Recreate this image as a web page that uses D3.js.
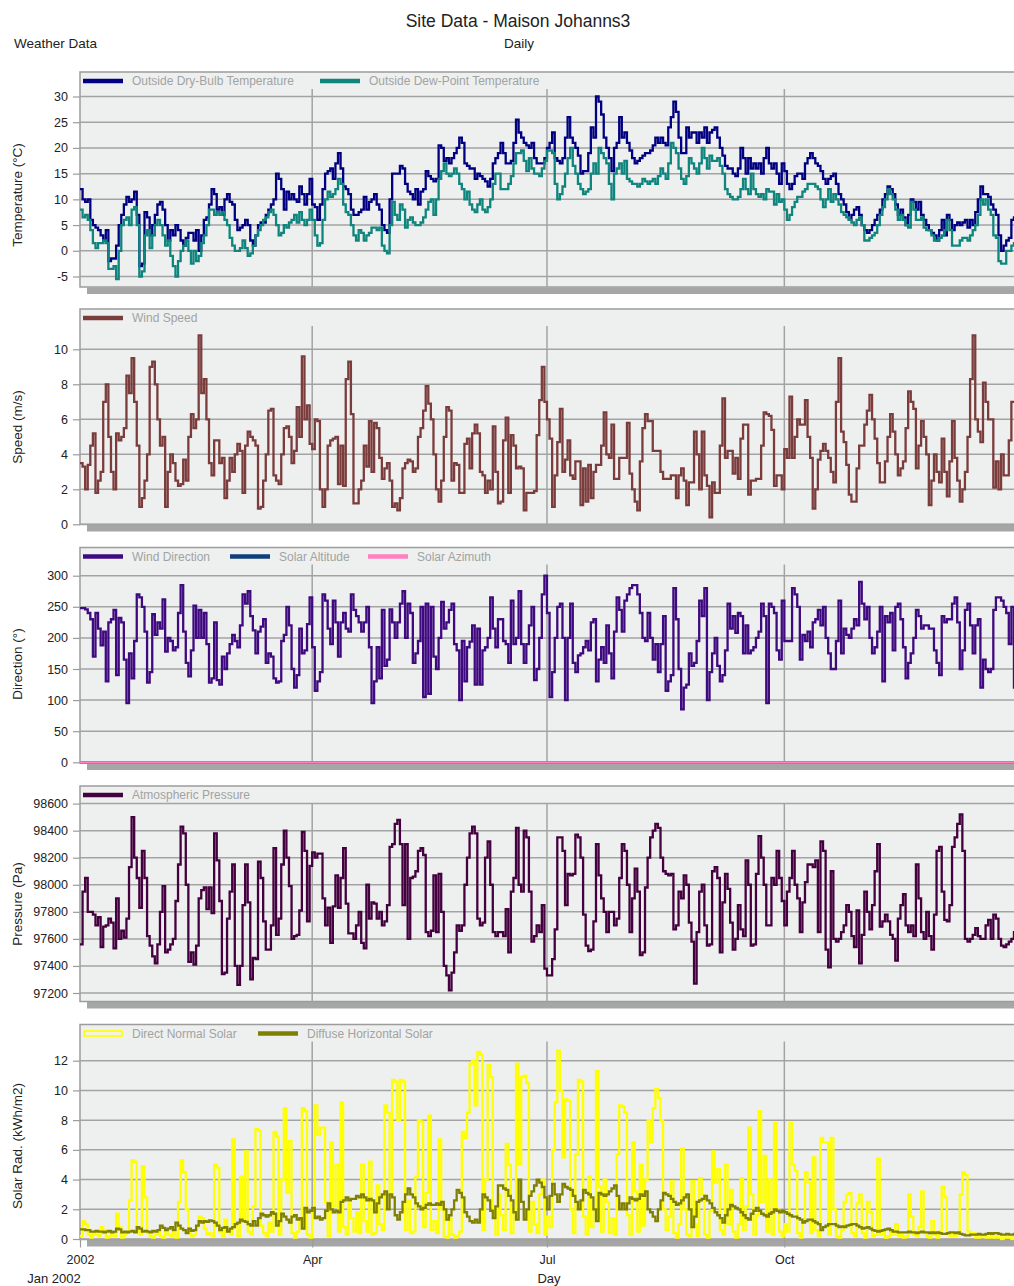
<!DOCTYPE html>
<html>
<head>
<meta charset="utf-8">
<script src="https://cdn.jsdelivr.net/npm/d3@7"></script>
<style>
  body { margin: 0; background: #fff; }
  svg text { font-family: "Liberation Sans", Arial, sans-serif; }
</style>
</head>
<body>
<svg id="chart" width="1014" height="1286"></svg>
<script>
// ---- Daily weather series, 1 Jan 2002 .. 31 Dec 2002 (365 values each) ----
const dryBulb = [
12,10,9.5,10,6,5,4.5,4,3,2,
4,-2,-1.5,-1.5,1,5,7,9,10.5,9.5,
10,11.5,7,-3,-2.5,7.5,6.5,3,5,7,
9,9.5,8,5,2,4,3,5,4,2,
1,2.5,3.5,3.5,2,4,0,3,6,6.5,
9,12,11,8,8.5,7,10,11,9.5,9,
6,4,4.5,5,6,5,2,1,3,5,
5.5,5.5,7,8,9,10,15,14,12,8,
11.5,10,11,10,9.5,12.5,11,9,11,14,
9,8.5,6,9,12,15,15.5,16,14,17,
19,16,12.5,12,11,8,7,7,7.5,8,
10.5,8,9.5,10,11,9,8,5,4,3.5,
10,15,15,15,16.5,16,13,11.5,11,10,
12,9,11.5,12,15.5,14.5,14,13.5,14,20.5,
20,17.5,18,17,18,19,20,22,21,17,
16.5,16,16,14,15,14.5,14,13.5,12.5,14,
17,18,19,21,19,17,17,17.5,21,25.5,
23,22,21,20.5,20,21,18,17,17,17,
18,20,21,23,18,17.5,17,18,22,26,
22,21,20,18.5,15,15.5,15.5,19,24,22,
30,29,26.5,22,20,18,15.5,20,21,26,
22,23,21,19.5,18,17,17.5,18,18.5,19,
19,19.5,20.5,22,21,22,21,20.5,24,26,
29,27,22,19,19,24,22,23,23,21,
23,22,24,21,23,23.5,24,22,20,18.5,
16.5,16,16,15,14.5,16,20,18,15,18,
16,17,16,17,15,18,20,17,16,17,
15,13,17,15.5,13,12,13,14.5,15,15,
14,17,18,19,18,17,16.5,15.5,14,13,
14,14.5,15,13,11,10,9,7.5,6,7,
8,8.5,7,5,4,3.5,4,5,6,7,
8,10,11,12.5,12,11,9,7,8,6.5,
5,7,10,9.5,8,9.5,7,6,5,4,
3.5,3,2,4,6,3,7,6,4,5,
5.5,5,5.5,6,4.5,6,5,7.5,10,12.5,
11,11,10.5,9,8,7,3,0,1,2,
2.5,6,6.5,6,5
];

const dewPoint = [
8,6.5,7,6,4,1.5,0.5,1.5,1.5,2,
1.5,-3.5,-3.5,-3,-5.5,0,5,6,6.5,5,
8,8.5,5,-5,-4,3,4,0.5,3,5,
6,5,3,1,2,-1,-3,-5,-2,0,
1,2,0,-2.5,0,-2,-1,1.5,3,5,
8,8,7,7.5,7,7.5,6,5,2.5,1,
0,0,0.5,2,0.5,-1,-0.5,1,3,4,
5,6,6.5,7.5,8,7,5,3,3.5,5,
4.5,5.5,6,7,5.5,7.5,6,5,6,8,
6,3,1,1.5,6,10,11.5,10.5,11,12,
14,13,9,7.5,7,5,3,2,4,3.5,
2,3,3.5,4.5,4.5,4,4.5,1,0,-0.5,
5,9.5,7,6,9,8,4.5,6,6.5,5.5,
5,5,5.5,6.5,8,9.5,10,7,10,14,
15.5,17,15,14.5,15,16,15,13,12,10,
11.5,9,8,7.5,9,10,8,7.5,8.5,10,
13,15,15,12,12,12,13,14.5,17,19,
19,19.5,17.5,15.5,18,16,15,15,14.5,16,
17.5,19.5,19.5,19,13,10,11,12.5,15,18,
20,16.5,15,13,12,11,11.5,12,15,17,
15,20,19,18,17,13,10,15,16,17,
15,17.5,14,13.5,13,13,12.5,13,14,13.5,
13,13.5,14,13,14.5,16,15,14,17,21,
20,19,16,14,13,14.5,18,17,16,15,
17,20,18,16,18.5,17.5,17.5,18,16.5,15,
12,11,10.5,10,10,10.5,12,14,12,11,
15,12,11,10.5,11,10,12,11.5,11.5,9,
11,9.5,10,8,6,7,8.5,9.5,10.5,10.5,
11.5,12,13,13,13,12.5,12,10,8.5,10,
12,9.5,11,10,9,7.5,7,6.5,6,5.5,
5,6,6.5,5,2,2,2.5,3,3.5,5,
7,8.5,10,12,11,10,8,6,7,6,
5,4.5,9.5,8,6,6,6.5,4.5,4,4,
3,2,2,2.5,3,4,6,4,1,1,
1,2,2.5,2.5,2,3,4,5,7,10,
9,10,8,7,3,2.5,-2,-2.5,-2.5,0,
0,1,1.5,2,2
];

const windSpeed = [
3.5,3.3,2,3.4,4.5,5.2,1.8,2.5,3,7,
8,5,3,2,5.2,4.8,5,5.5,8.5,7.5,
9.5,7,4.5,1,1.5,2.5,4,9,9.3,8,
6,4.5,5,1,3,4,3.5,2.5,2.2,2.3,
3.7,2.5,5,6.3,5.5,6,10.8,7.5,8.3,6,
3.5,2.8,4.8,4.8,3.5,3.8,1.5,2.5,3.8,3,
4,4.6,4.2,1.8,4.5,5.3,5,4.8,4.5,0.9,
1,2.5,4,6.5,6.6,2.8,2.5,2.3,4,5.5,
5.6,5,3.5,4.2,6.7,5,9.6,6,6.8,4.6,
4.3,6,5.9,2,1,2,4.5,4.8,4.9,5,
2.3,4.5,2.2,8.3,9.3,6.3,1.2,1.2,2,2.5,
4.5,3.3,5.9,3,5.8,5.5,3.8,2.6,3.2,3.5,
2.5,1,1.2,0.8,1.5,3.2,3.5,3.7,3.6,3,
3.2,5,5.5,6.5,7.9,6.9,6,4,2,1.3,
2.5,5,6.7,6.5,2.5,3.5,3.4,1.8,1.8,4.6,
4.9,3.2,5.2,5.7,5.2,3,2.8,1.8,2.5,2,
5.6,3,1.2,1.3,4.8,6.1,1.8,5.1,4.5,3.2,
3.3,3.2,0.8,1.8,1.8,1.8,1.9,5.1,7.1,9,
7,6,4.9,1,2.8,4.7,6.6,3,3.7,4.8,
2.8,2.6,3.6,3.6,1.1,3.2,1.3,3.4,1.5,3,
3.4,3.4,4.5,6.4,4,3.8,5.7,2.6,2.6,3.8,
3.8,3.8,5.8,2.9,2,1.3,0.8,3.6,5.5,6.3,
5.9,5.9,4.2,4.2,4.2,3,2.6,2.6,2.6,2.8,
2.8,1.5,2.8,3.2,2.5,1.1,2.4,2.4,5.3,4,
2,5.3,2.8,2.2,0.4,2.4,1.8,1.8,4.5,7.2,
3.8,4.2,4.2,2.9,3.8,2.6,4.9,5.7,5.7,1.7,
2.5,2.5,2.6,2.6,4.5,6.4,6.3,6.2,5.4,2.2,
2.8,2.8,2,4.3,3.8,7.3,3.8,5,6,5.7,
5.7,7.1,5,3.8,0.9,2,3.7,4.2,4.6,4.2,
3.8,3,2.4,7,9.5,5.3,4.7,3.4,1.7,1.3,
1.3,3.2,4.5,4.5,5.7,6.5,7.4,6,4.9,3.5,
2.4,2.4,3.6,5,6.3,5.3,4,2.8,3.2,3.6,
5.5,7.6,7,6.6,3.2,4.5,5.9,5,4,1.1,
2.5,4,3,2.4,4.9,3,1.6,3.6,5.9,3.8,
2.5,1.3,2,3,5,8.3,10.8,6,5.3,4.7,
8.1,7,6,6,2.1,3.6,2,4,2.8,2.8,
4.8,7,7,6,5
];

const windDirection = [
248,248,246,240,230,170,240,215,188,210,
130,225,230,245,140,232,225,165,95,175,
135,195,270,265,250,210,128,145,238,205,
225,215,262,178,200,195,180,185,240,285,
210,160,138,180,252,200,245,200,240,190,
128,135,225,132,125,170,150,175,190,205,
195,185,220,270,255,275,235,212,175,210,
218,230,160,175,170,135,128,130,195,205,
250,220,150,120,140,215,175,180,222,265,
185,115,130,145,270,260,215,190,260,225,
170,225,240,215,210,270,245,235,225,210,
225,250,185,95,130,185,135,245,155,165,
246,225,200,225,255,275,200,255,240,160,
175,195,250,105,255,110,250,170,150,200,
258,215,225,245,255,190,180,100,195,130,
185,194,220,125,215,125,180,185,200,265,
215,185,230,230,195,190,160,260,190,200,
275,190,160,190,220,250,132,150,200,270,
300,240,105,145,200,250,255,200,100,200,
255,160,145,172,175,185,195,180,225,230,
130,165,185,160,220,175,135,210,265,245,
210,260,270,280,285,285,270,240,200,195,
240,200,165,190,145,190,235,115,130,140,
280,230,150,85,120,125,175,155,160,195,
260,235,280,100,145,175,200,155,130,140,
180,255,215,235,208,240,235,175,220,175,
180,185,200,210,255,235,95,255,250,240,
180,165,260,195,195,195,280,270,250,165,
205,195,210,185,225,230,245,220,250,200,
175,150,150,195,260,175,215,205,200,215,
230,220,290,255,230,250,200,175,185,210,
250,130,235,225,240,180,250,255,230,185,
135,160,175,200,245,235,215,220,220,215,
215,180,160,140,235,225,230,230,255,265,
225,150,180,245,255,220,175,220,230,120,
165,150,145,150,245,265,265,260,250,240,
190,250,120,200,230
];

const solarAltitude = [
0,0,0,0,0,0,0,0,0,0, 0,0,0,0,0,0,0,0,0,0, 0,0,0,0,0,0,0,0,0,0, 0,0,0,0,0,0,0,0,0,0,
0,0,0,0,0,0,0,0,0,0, 0,0,0,0,0,0,0,0,0,0, 0,0,0,0,0,0,0,0,0,0, 0,0,0,0,0,0,0,0,0,0,
0,0,0,0,0,0,0,0,0,0, 0,0,0,0,0,0,0,0,0,0, 0,0,0,0,0,0,0,0,0,0, 0,0,0,0,0,0,0,0,0,0,
0,0,0,0,0,0,0,0,0,0, 0,0,0,0,0,0,0,0,0,0, 0,0,0,0,0,0,0,0,0,0, 0,0,0,0,0,0,0,0,0,0,
0,0,0,0,0,0,0,0,0,0, 0,0,0,0,0,0,0,0,0,0, 0,0,0,0,0,0,0,0,0,0, 0,0,0,0,0,0,0,0,0,0,
0,0,0,0,0,0,0,0,0,0, 0,0,0,0,0,0,0,0,0,0, 0,0,0,0,0,0,0,0,0,0, 0,0,0,0,0,0,0,0,0,0,
0,0,0,0,0,0,0,0,0,0, 0,0,0,0,0,0,0,0,0,0, 0,0,0,0,0,0,0,0,0,0, 0,0,0,0,0,0,0,0,0,0,
0,0,0,0,0,0,0,0,0,0, 0,0,0,0,0,0,0,0,0,0, 0,0,0,0,0,0,0,0,0,0, 0,0,0,0,0,0,0,0,0,0,
0,0,0,0,0,0,0,0,0,0, 0,0,0,0,0,0,0,0,0,0, 0,0,0,0,0,0,0,0,0,0, 0,0,0,0,0,0,0,0,0,0,
0,0,0,0,0
];

const solarAzimuth = [
0,0,0,0,0,0,0,0,0,0, 0,0,0,0,0,0,0,0,0,0, 0,0,0,0,0,0,0,0,0,0, 0,0,0,0,0,0,0,0,0,0,
0,0,0,0,0,0,0,0,0,0, 0,0,0,0,0,0,0,0,0,0, 0,0,0,0,0,0,0,0,0,0, 0,0,0,0,0,0,0,0,0,0,
0,0,0,0,0,0,0,0,0,0, 0,0,0,0,0,0,0,0,0,0, 0,0,0,0,0,0,0,0,0,0, 0,0,0,0,0,0,0,0,0,0,
0,0,0,0,0,0,0,0,0,0, 0,0,0,0,0,0,0,0,0,0, 0,0,0,0,0,0,0,0,0,0, 0,0,0,0,0,0,0,0,0,0,
0,0,0,0,0,0,0,0,0,0, 0,0,0,0,0,0,0,0,0,0, 0,0,0,0,0,0,0,0,0,0, 0,0,0,0,0,0,0,0,0,0,
0,0,0,0,0,0,0,0,0,0, 0,0,0,0,0,0,0,0,0,0, 0,0,0,0,0,0,0,0,0,0, 0,0,0,0,0,0,0,0,0,0,
0,0,0,0,0,0,0,0,0,0, 0,0,0,0,0,0,0,0,0,0, 0,0,0,0,0,0,0,0,0,0, 0,0,0,0,0,0,0,0,0,0,
0,0,0,0,0,0,0,0,0,0, 0,0,0,0,0,0,0,0,0,0, 0,0,0,0,0,0,0,0,0,0, 0,0,0,0,0,0,0,0,0,0,
0,0,0,0,0,0,0,0,0,0, 0,0,0,0,0,0,0,0,0,0, 0,0,0,0,0,0,0,0,0,0, 0,0,0,0,0,0,0,0,0,0,
0,0,0,0,0
];

const pressure = [
97560,97950,98050,97800,97800,97780,97700,97760,97540,97690,
97700,97750,97720,97530,97900,97600,97660,97610,97750,98130,
98500,98200,98050,97830,98250,98050,97620,97550,97470,97420,
97560,97800,97990,97500,97520,97560,97600,97880,98150,98430,
98380,98000,97430,97500,97410,97550,97900,97960,97980,97820,
97980,97790,98380,98180,97880,97340,97350,97750,97950,98150,
97400,97260,97400,97850,98150,97870,97300,97460,97450,98170,
98050,97730,97520,97520,97700,98270,97630,97750,98150,98400,
98200,97990,97600,97620,97630,97810,98390,98250,97730,98140,
98240,98200,98230,98230,97900,97700,97830,97570,97840,98070,
97830,98050,98270,97860,97640,97640,97600,97700,97800,97570,
97530,98000,97750,97870,97860,97750,97800,97700,97730,97850,
98280,98300,98450,98480,98300,97850,98300,97600,98050,98060,
98100,98250,98270,98220,97650,97620,97660,98070,97650,98080,
97800,97400,97330,97220,97350,97500,97700,97660,97700,98000,
98200,98380,98430,98380,97750,97700,97720,98200,98320,98000,
97650,97620,97650,97650,97620,97820,97500,97950,98050,98420,
98000,97950,98400,98350,97950,97580,97620,97700,97650,97850,
97380,97330,97330,97450,97670,98350,98350,98250,97850,98080,
98070,98080,98370,98350,98200,97780,97550,97510,97520,97730,
98300,98070,97900,97800,97650,97800,97800,97700,97750,98050,
98300,98250,98000,97650,97900,98120,97950,97480,97500,97980,
98200,98350,98400,98450,98420,98200,98100,98080,98070,98080,
97670,97700,97950,97900,98070,98000,97720,97580,97270,97650,
97950,98000,97700,97550,97560,98100,98130,98050,97500,97870,
98080,97970,97720,97520,97600,97850,97670,97620,98180,98000,
97550,97560,98080,98360,98200,98000,97700,97700,98050,98000,
98250,98050,97880,97700,97950,98050,98250,98000,97900,97650,
97870,98020,98150,98150,98130,98180,97650,98320,98250,97520,
97390,98100,97600,97580,97600,97650,97700,97850,97800,97620,
97540,97810,97420,97630,97950,97800,97670,97850,98100,98300,
97690,97730,97780,97730,97630,97600,97440,97750,97850,97930,
97700,97650,97700,97620,98150,97900,97650,97600,97800,97620,
97520,97780,98250,98280,97950,97740,97730,97850,98280,98350,
98450,98520,98250,97600,97580,97600,97630,97680,97620,97600,
97600,97700,97740,97600,97780,97750,97600,97550,97540,97560,
97580,97600,97650,97620,97600
];

const directNormal = [
0.2,1.2,1.0,0.3,0.1,0.4,0.3,0.2,0.8,0.6,
0.1,0.2,0.3,0.2,1.7,0.8,0.1,0.3,0.5,2.6,
5.3,5.2,0.6,0.3,4.9,2.8,0.4,0.2,0.1,0.3,
0.4,0.2,0.1,0.6,0.3,0.2,0.4,0.1,2.5,5.3,
4.5,2.0,0.4,0.2,0.3,0.8,1.5,1.4,0.7,0.3,
0.4,0.2,5.0,4.8,0.5,0.2,1.3,0.6,0.3,6.7,
0.8,0.2,4.2,1.2,5.9,0.5,0.3,2.2,7.4,7.3,
0.9,0.4,0.2,1.1,0.5,7.2,6.9,0.3,4.0,8.8,
3.1,6.6,0.4,0.1,0.5,1.2,8.8,8.6,0.3,0.1,
2.1,9.0,7.0,7.5,7.5,2.5,0.2,6.5,2.2,5.0,
0.5,9.2,0.8,0.3,2.4,1.4,0.5,1.8,0.4,5.0,
1.2,0.5,5.2,0.3,0.4,3.6,1.0,0.6,9.0,8.5,
3.0,10.7,10.6,8.0,10.7,10.6,0.6,2.6,0.4,0.5,
4.2,8.0,7.9,0.8,3.1,8.3,0.6,1.2,0.4,6.7,
2.0,0.2,0.1,1.4,0.3,0.1,0.2,0.5,7.2,6.8,
8.5,11.8,12.0,9.0,12.6,12.4,0.6,4.0,11.7,10.9,
2.0,0.3,3.0,1.6,0.6,6.4,5.0,0.4,2.0,11.8,
5.0,10.9,11.0,10.5,0.5,2.5,1.0,0.4,3.0,4.0,
0.3,1.5,0.8,6.0,9.2,12.7,10.0,5.5,9.4,9.3,
2.0,0.4,5.7,10.7,10.6,1.5,0.3,4.2,0.8,2.0,
11.3,3.5,0.5,4.0,2.5,0.4,1.4,0.3,5.7,9.0,
8.9,8.5,1.6,0.3,6.5,3.2,0.5,5.0,0.9,4.0,
8.0,6.5,8.8,10.1,9.5,8.0,2.0,0.6,1.5,3.9,
0.4,0.1,1.0,6.1,2.0,0.3,0.2,3.9,1.0,0.2,
4.1,3.0,0.3,0.1,1.9,5.9,3.8,4.7,0.6,0.3,
5.0,1.0,3.3,0.5,0.1,1.0,4.1,0.6,2.2,7.5,
3.0,0.3,1.6,8.6,2.5,5.6,0.5,4.0,0.3,7.8,
2.0,0.5,0.2,1.0,0.5,7.8,5.0,4.6,0.4,0.1,
1.2,4.5,3.8,0.4,5.5,0.6,0.2,6.8,6.5,6.5,
0.3,6.8,2.0,0.2,0.1,0.6,2.5,3.0,3.1,0.4,
0.2,2.4,3.0,0.4,0.1,2.5,1.8,0.2,0.3,5.4,
0.3,0.5,0.1,0.2,0.5,0.3,1.0,0.2,0.3,0.1,
0.2,3.0,1.5,0.3,0.2,0.8,3.2,0.4,0.2,0.1,
1.2,0.3,0.1,0.5,3.5,2.8,0.4,0.2,0.3,0.2,
0.4,3.0,4.5,4.3,0.5,0.3,0.4,0.1,0.1,0.2,
0.3,0.1,0.1,0.2,0.1,0.2,0.1,0.0,0.1,0.1,
0.1,0.0,0.1,0.1,0.1
];

const diffuseHorizontal = [
0.65,0.65,0.6,0.6,0.5,0.5,0.55,0.5,0.5,0.45,
0.5,0.55,0.45,0.5,0.7,0.65,0.45,0.5,0.45,0.5,
0.55,0.45,0.8,0.7,0.5,0.55,0.5,0.45,0.55,0.5,
0.6,0.9,0.75,0.6,0.7,0.8,0.6,1.1,0.9,0.7,
0.6,0.4,0.7,0.55,0.6,0.9,1.2,1.1,1.2,1.15,
1.25,1.2,1.1,0.9,0.6,0.75,0.8,0.5,0.7,0.8,
1.0,1.1,1.3,1.2,1.15,1.0,0.9,1.2,0.9,1.4,
1.7,1.6,1.5,1.6,1.8,1.7,0.9,1.2,1.7,1.5,
1.3,1.1,1.5,1.6,1.3,1.4,0.7,2.1,1.8,1.9,
2.1,1.4,1.5,1.3,1.4,1.9,2.4,2.0,1.8,1.9,
1.8,2.5,2.6,2.8,2.6,2.7,2.7,2.9,2.8,3.0,
2.8,2.6,2.7,2.6,1.8,2.4,2.8,3.0,3.2,2.0,
3.0,2.8,1.6,1.3,1.8,2.5,3.0,3.4,3.0,2.8,
2.4,2.2,2.0,2.1,2.3,2.4,2.3,2.3,2.4,2.3,
2.5,2.0,1.3,1.6,2.0,2.6,3.3,3.1,2.8,1.8,
1.5,1.2,1.1,1.3,1.1,2.0,3.0,2.8,2.6,1.9,
1.4,2.2,3.6,3.6,3.4,3.3,2.9,2.6,1.8,1.3,
4.0,2.5,1.3,2.0,2.9,3.2,3.6,4.0,3.8,3.5,
2.8,2.0,2.9,3.7,3.0,2.5,3.0,3.7,3.5,3.4,
3.3,2.9,2.5,2.0,2.6,3.3,3.1,3.0,2.8,2.0,
1.2,3.1,3.0,2.9,3.0,3.2,3.4,3.6,2.9,2.0,
2.4,2.0,2.4,2.8,2.7,2.6,2.7,3.0,2.9,3.2,
2.0,1.8,1.5,1.2,2.0,2.6,3.1,3.0,2.9,2.7,
2.5,2.3,2.4,2.6,2.8,3.0,2.0,0.8,1.5,2.5,
2.6,2.7,2.9,2.6,2.4,2.1,1.8,1.6,1.4,1.1,
1.6,2.0,2.3,2.2,2.1,2.0,1.8,1.6,1.4,1.3,
1.7,1.9,2.1,1.9,1.7,1.6,1.5,1.7,1.8,2.0,
1.9,1.8,1.9,1.8,1.7,1.6,1.5,1.5,1.4,1.3,
1.1,1.2,1.3,1.3,1.2,1.1,1.0,0.6,0.8,0.9,
1.0,1.0,1.0,0.9,0.8,0.85,0.8,0.9,0.95,1.0,
1.0,0.9,0.8,0.7,0.75,0.8,0.7,0.6,0.55,0.5,
0.55,0.6,0.65,0.7,0.6,0.5,0.5,0.45,0.45,0.45,
0.45,0.5,0.45,0.45,0.4,0.45,0.5,0.45,0.45,0.4,
0.45,0.4,0.45,0.4,0.35,0.35,0.4,0.45,0.45,0.4,
0.45,0.35,0.3,0.25,0.25,0.3,0.3,0.3,0.35,0.3,
0.3,0.35,0.4,0.35,0.4,0.4,0.35,0.3,0.3,0.35,
0.3,0.3,0.35,0.3,0.3
];

// ---- Axis ticks and labels ----
const temperatureTicks = [-5, 0, 5, 10, 15, 20, 25, 30];
const speedTicks = [0, 2, 4, 6, 8, 10];
const directionTicks = [0, 50, 100, 150, 200, 250, 300];
const pressureTicks = [97200, 97400, 97600, 97800, 98000, 98200, 98400, 98600];
const solarTicks = [0, 2, 4, 6, 8, 10, 12];
const monthTickDates = [[2002, 0, 1], [2002, 3, 1], [2002, 6, 1], [2002, 9, 1]];
const monthTickLabels = ["2002", "Apr", "Jul", "Oct"];

[dryBulb, dewPoint, windSpeed, windDirection, solarAltitude, solarAzimuth,
 pressure, directNormal, diffuseHorizontal].forEach((a, k) => {
  if (a.length !== 365) throw new Error("series " + k + " has " + a.length + " values");
});

// ---- Layout ----
const svg = d3.select("#chart");
const start = new Date(Date.UTC(2002, 0, 1));
const end = new Date(Date.UTC(2003, 0, 1));
const dayDate = i => new Date(start.getTime() + i * 864e5);
const x = d3.scaleUtc().domain([start, end]).range([80, 80 + 365 * 2.58]);
const plotLeft = x(start), plotRight = x(end);
const monthTicks = monthTickDates.map(d => new Date(Date.UTC(d[0], d[1], d[2])));

const GRID = "#a3a3a3";
const FRAME = "#9c9c9c";

const panels = [
  { top: 72, bottom: 287, domain: [-5, 30], range: [276.5, 96.5], ticks: temperatureTicks,
    title: "Temperature (°C)", titleY: 195, legendX: [83, 320],
    series: [
      { name: "Outside Dry-Bulb Temperature", values: dryBulb, color: "#000080" },
      { name: "Outside Dew-Point Temperature", values: dewPoint, color: "#0f857d" } ] },
  { top: 309, bottom: 524.5, domain: [0, 10], range: [524.3, 349.3], ticks: speedTicks,
    title: "Speed (m/s)", titleY: 427, legendX: [83],
    series: [ { name: "Wind Speed", values: windSpeed, color: "#7b3c3c" } ] },
  { top: 547.5, bottom: 763, domain: [0, 300], range: [762.3, 575.7], ticks: directionTicks,
    title: "Direction (°)", titleY: 664, legendX: [83, 230, 368],
    series: [
      { name: "Wind Direction", values: windDirection, color: "#3f0a80" },
      { name: "Solar Altitude", values: solarAltitude, color: "#0d3f78" },
      { name: "Solar Azimuth", values: solarAzimuth, color: "#ff80c0" } ] },
  { top: 786, bottom: 1001.5, domain: [97200, 98600], range: [993, 803.6], ticks: pressureTicks,
    title: "Pressure (Pa)", titleY: 904, legendX: [83],
    series: [ { name: "Atmospheric Pressure", values: pressure, color: "#45003f" } ] },
  { top: 1024.5, bottom: 1239.5, domain: [0, 12], range: [1239, 1060.7], ticks: solarTicks,
    title: "Solar Rad. (kWh/m2)", titleY: 1146, legendX: [83, 258],
    series: [
      { name: "Direct Normal Solar", values: directNormal, color: "#ffff00", hollow: true },
      { name: "Diffuse Horizontal Solar", values: diffuseHorizontal, color: "#808000" } ] }
];

// ---- Titles ----
svg.append("rect").attr("width", 1014).attr("height", 1286).attr("fill", "#fff");
svg.append("text").attr("x", 518).attr("y", 27).attr("text-anchor", "middle")
  .attr("font-size", 17.5).attr("fill", "#222").text("Site Data - Maison Johanns3");
svg.append("text").attr("x", 14).attr("y", 48)
  .attr("font-size", 13.5).attr("fill", "#222").text("Weather Data");
svg.append("text").attr("x", 519).attr("y", 48).attr("text-anchor", "middle")
  .attr("font-size", 13.5).attr("fill", "#222").text("Daily");

// ---- Panels ----
panels.forEach((p, pi) => {
  const g = svg.append("g");
  const y = d3.scaleLinear().domain(p.domain).range(p.range);

  // drop shadow under the plot frame
  g.append("rect").attr("x", plotLeft + 7).attr("y", p.bottom + 0.5)
    .attr("width", plotRight - plotLeft).attr("height", 6.5).attr("fill", "#a6a6a6");

  // plot background and frame
  g.append("rect").attr("x", plotLeft).attr("y", p.top)
    .attr("width", plotRight - plotLeft).attr("height", p.bottom - p.top)
    .attr("fill", "#eef0ef").attr("stroke", FRAME).attr("stroke-width", 1.5);

  // horizontal gridlines
  g.append("g").selectAll("line").data(p.ticks).join("line")
    .attr("x1", plotLeft).attr("x2", plotRight)
    .attr("y1", d => y(d)).attr("y2", d => y(d))
    .attr("stroke", GRID).attr("stroke-width", 1.5);

  // vertical month gridlines (below the legend strip)
  g.append("g").selectAll("line").data(monthTicks.slice(1)).join("line")
    .attr("x1", d => x(d)).attr("x2", d => x(d))
    .attr("y1", p.top + 17).attr("y2", p.bottom)
    .attr("stroke", GRID).attr("stroke-width", 1.5);

  // y axis
  const yAxis = d3.axisLeft(y).tickValues(p.ticks).tickSize(7).tickPadding(5)
    .tickFormat(d => String(d));
  g.append("g").attr("transform", `translate(${plotLeft},0)`).call(yAxis)
    .call(a => a.select(".domain").remove())
    .call(a => a.attr("font-family", null).attr("font-size", null))
    .call(a => a.selectAll(".tick line").attr("stroke", FRAME).attr("stroke-width", 1.2))
    .call(a => a.selectAll(".tick text").attr("fill", "#222").attr("font-size", 12.5));

  // y axis title
  g.append("text")
    .attr("transform", `translate(22,${p.titleY}) rotate(-90)`)
    .attr("text-anchor", "middle").attr("font-size", 13.5).attr("fill", "#222")
    .text(p.title);

  // series lines
  const clipId = "clip" + pi;
  g.append("clipPath").attr("id", clipId).append("rect")
    .attr("x", plotLeft).attr("y", p.top).attr("width", plotRight - plotLeft)
    .attr("height", p.bottom - p.top + 1);
  const line = d3.line().curve(d3.curveStepAfter)
    .x(d => x(dayDate(d[0]))).y(d => y(d[1]));
  const lines = g.append("g").attr("clip-path", `url(#${clipId})`);
  p.series.forEach(s => {
    const pts = s.values.map((v, i) => [i, v]);
    pts.push([365, s.values[364]]);
    lines.append("path").datum(pts).attr("d", line)
      .attr("fill", "none").attr("stroke", s.color).attr("stroke-width", 2.3)
      .attr("stroke-linejoin", "miter");
  });

  // legend
  const lg = g.append("g");
  p.series.forEach((s, si) => {
    const lx = p.legendX[si];
    const ly = p.top + 9;
    if (s.hollow) {
      lg.append("rect").attr("x", lx + 1).attr("y", ly - 2.5).attr("width", 38).attr("height", 5)
        .attr("fill", "#f4f4dc").attr("stroke", s.color).attr("stroke-width", 1.6);
    } else {
      lg.append("line").attr("x1", lx).attr("x2", lx + 40).attr("y1", ly).attr("y2", ly)
        .attr("stroke", s.color).attr("stroke-width", 4.5);
    }
    lg.append("text").attr("x", lx + 49).attr("y", ly + 4.3)
      .attr("font-size", 12).attr("fill", "#a2a2a2").text(s.name);
  });
});

// ---- Date axis under the last panel ----
const last = panels[panels.length - 1];
const xAxis = d3.axisBottom(x).tickValues(monthTicks).tickSize(8).tickPadding(8)
  .tickFormat((d, i) => monthTickLabels[i]);
svg.append("g").attr("transform", `translate(0,${last.bottom})`).call(xAxis)
  .call(a => a.select(".domain").remove())
  .call(a => a.attr("font-family", null).attr("font-size", null))
  .call(a => a.selectAll(".tick line").attr("stroke", FRAME).attr("stroke-width", 1.2))
  .call(a => a.selectAll(".tick text").attr("fill", "#222").attr("font-size", 12.5));

svg.append("text").attr("x", 54).attr("y", 1283).attr("text-anchor", "middle")
  .attr("font-size", 13).attr("fill", "#222").text("Jan 2002");
svg.append("text").attr("x", 549).attr("y", 1283).attr("text-anchor", "middle")
  .attr("font-size", 13).attr("fill", "#222").text("Day");
</script>
</body>
</html>
